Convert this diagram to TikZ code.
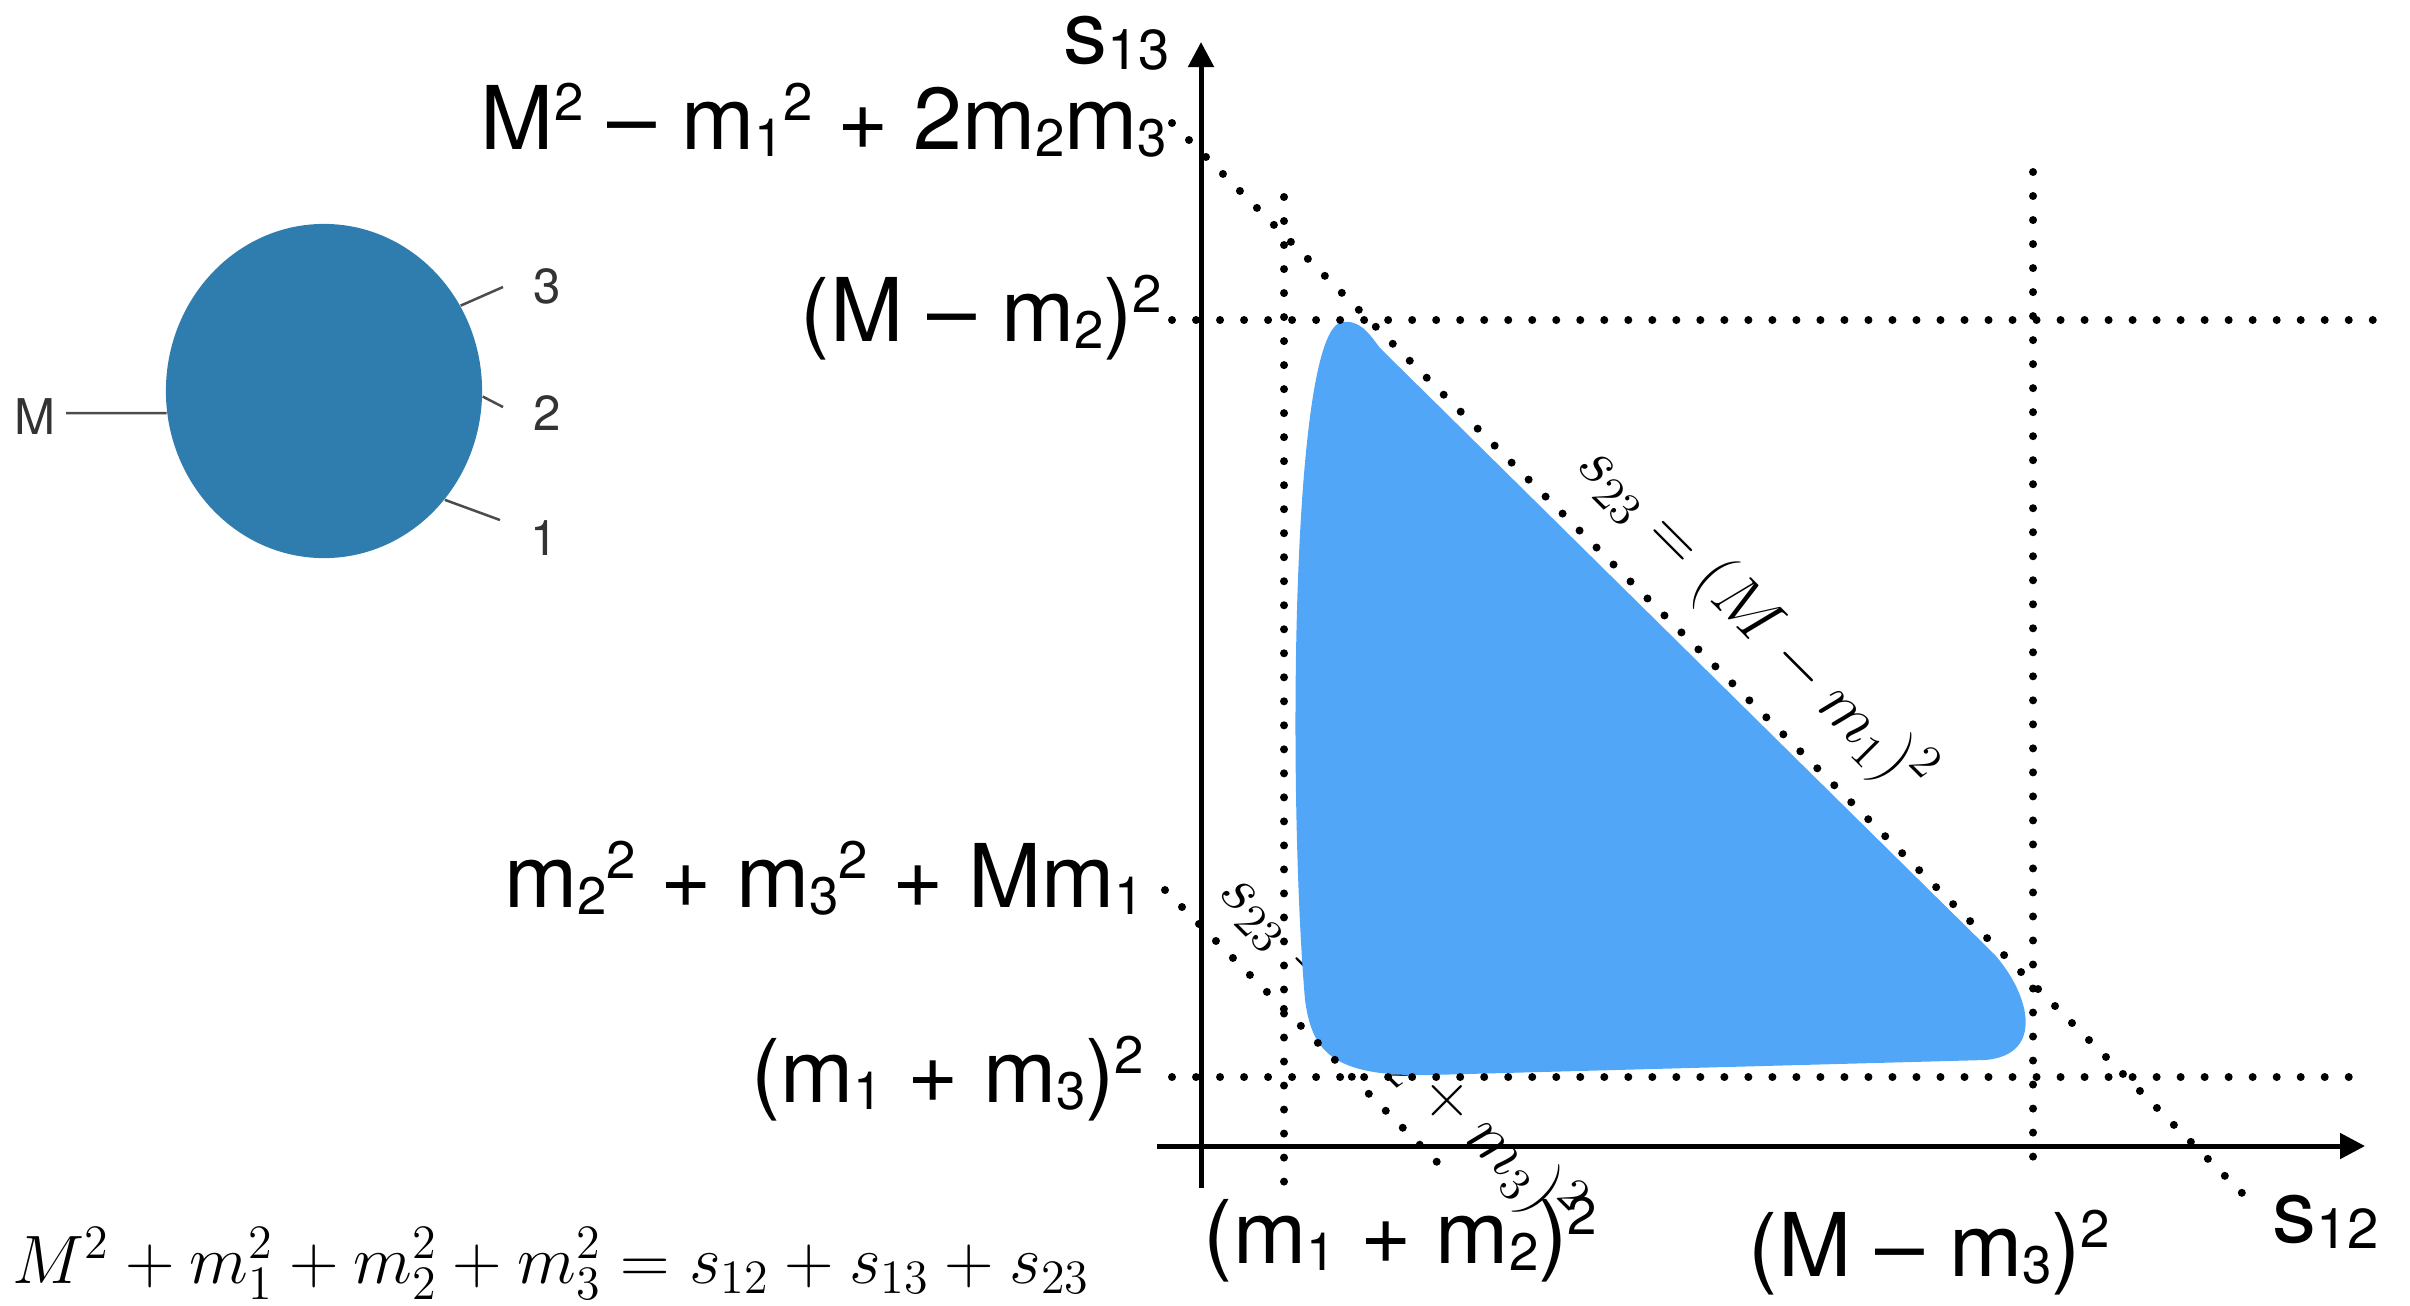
\RequirePackage{fix-cm}
\documentclass[tikz,border=0pt]{standalone}
\usepackage{fontspec}
\newfontfamily\hlv{TeX Gyre Heros}
\usetikzlibrary{arrows.meta,shapes.geometric}

\definecolor{blobblue}{RGB}{46,125,174}
\definecolor{regionblue}{RGB}{82,166,248}
\newcommand{\lo}[1]{\raisebox{-0.08em}{\fontsize{15}{15}\selectfont #1}}
\newcommand{\hi}[1]{\raisebox{0.32em}{\fontsize{15}{15}\selectfont #1}}
\newcommand{\ax}[1]{\raisebox{-0.07em}{\fontsize{16}{16}\selectfont #1}}

\begin{document}
\begin{tikzpicture}[
  x=0.01cm, y=-0.01cm,
  axis/.style={line width=0.05cm, -{Triangle[length=0.25cm, width=0.25cm]}},
  dots/.style={line width=0.08cm, line cap=round, dash pattern=on 0pt off 0.24cm},
  lbl/.style={font=\hlv\fontsize{25}{29}\selectfont, inner sep=0pt},
  mth/.style={font=\fontsize{19}{23}\selectfont, inner sep=0pt},
  leg/.style={draw=black!70, line width=0.025cm},
  tag/.style={font=\hlv\fontsize{14}{16}\selectfont, text=black!80, inner sep=0pt},
  region/.style={fill=regionblue},
]
\useasboundingbox (0,0) rectangle (2410,1305);

%% decay blob M -> 1 2 3
\node[ellipse, fill=blobblue, minimum width=3.16cm, minimum height=3.34cm,
  inner sep=0pt] (blob) at (324,391) {};
\node[tag] (tM) at (35,417) {M};
\node[tag] (t3) at (547,286) {3};
\node[tag] (t2) at (547,413) {2};
\node[tag] (t1) at (544,538) {1};
\coordinate (eM) at (66,413);
\coordinate (e3) at (503,287);
\coordinate (e2) at (503,407);
\coordinate (e1) at (500,520);
\draw[leg] (eM) -- (blob.188);
\draw[leg] (blob.32) -- (e3);
\draw[leg] (blob.-2) -- (e2);
\draw[leg] (blob.-42) -- (e1);

%% kinematic limits
\coordinate (hiA) at (1172,123);
\coordinate (hiB) at (2245,1196);
\coordinate (loA) at (1165,890);
\coordinate (loB) at (1445,1170);
\node[mth, rotate=-45] (lbllo) at (1400,1050) {$s_{23}=(m_2+m_3)^2$};

%% allowed region
\fill[region] (1342,322)
  .. controls (1360,320) and (1368,332) .. (1380,348)
  -- (1995,955)
  .. controls (2030,995) and (2045,1055) .. (1985,1060)
  -- (1430,1075)
  .. controls (1330,1077) and (1312,1050) .. (1305,1000)
  .. controls (1288,800) and (1290,330) .. (1342,322)
  -- cycle;

%% dotted boundaries
\draw[dots] (1172,320) -- (2375,320);
\draw[dots] (1172,1077) -- (2355,1077);
\draw[dots] (1284,197) -- (1284,1186);
\draw[dots] (2033,172) -- (2033,1170);
\draw[dots] (hiA) -- (hiB);
\draw[dots] (loA) -- (loB);

%% axes
\coordinate (yb) at (1201,1188);
\coordinate (yt) at (1201,42);
\coordinate (xl) at (1157,1146);
\coordinate (xr) at (2365,1146);
\draw[axis] (yb) -- (yt);
\draw[axis] (xl) -- (xr);

%% labels
\node[lbl, anchor=base west] (s13) at (1063,63) {s\ax{13}};
\node[lbl, anchor=base west] (s12) at (2272,1242) {s\ax{12}};
\node[lbl, anchor=base east] (ytop) at (1168,149)
  {M\hi{2} – m\lo{1}\hi{2} + 2m\lo{2}m\lo{3}};
\node[lbl, anchor=base east] (ymax) at (1163,341) {(M – m\lo{2})\hi{2}};
\node[lbl, anchor=base east] (ymid) at (1145,907)
  {m\lo{2}\hi{2} + m\lo{3}\hi{2} + Mm\lo{1}};
\node[lbl, anchor=base east] (ymin) at (1145,1102) {(m\lo{1} + m\lo{3})\hi{2}};
\node[lbl, anchor=base west] (xmin) at (1203,1263) {(m\lo{1} + m\lo{2})\hi{2}};
\node[lbl, anchor=base west] (xmax) at (1748,1276) {(M – m\lo{3})\hi{2}};
\node[mth, rotate=-45] (lblhi) at (1755,620) {$s_{23}=(M-m_1)^2$};
\node[mth, font=\fontsize{19.5}{23}\selectfont, anchor=base west] (sumrule)
  at (12,1283) {$M^2+m_1^2+m_2^2+m_3^2=s_{12}+s_{13}+s_{23}$};
\end{tikzpicture}
\end{document}
